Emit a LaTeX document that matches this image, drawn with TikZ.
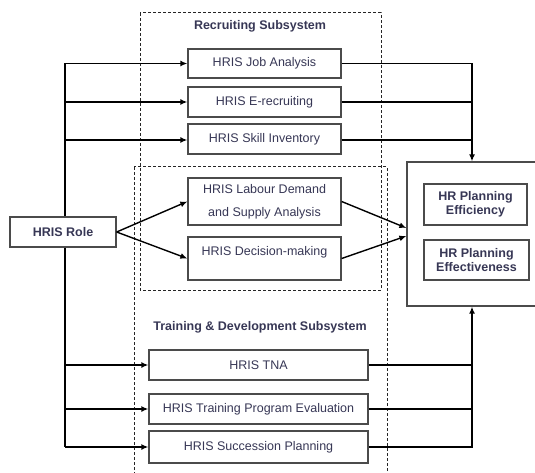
\documentclass[tikz,border=0pt]{standalone}
\usepackage{fontspec}
\setmainfont{Liberation Sans}
\usetikzlibrary{arrows.meta,calc}
\definecolor{txt}{RGB}{55,55,85}
\definecolor{edge}{RGB}{75,75,75}
\begin{document}
\begin{tikzpicture}[x=1pt,y=-1pt,
  font=\fontsize{12.5}{15}\selectfont, text=txt,
  box/.style={draw=edge, line width=1.3pt, fill=white, inner sep=0pt,
    minimum width=153pt, minimum height=30pt},
  boldbox/.style={box, font=\bfseries\fontsize{12.5}{14.5}\selectfont, align=center},
  title/.style={font=\bfseries\fontsize{12.5}{15}\selectfont, inner sep=0pt},
  dashbox/.style={draw=black!85, line width=1pt, dash pattern=on 3pt off 2pt},
  conn/.style={draw=black, line width=1.4pt},
  arr/.style={conn, -{Latex[length=7pt,width=6pt]}}
]
\useasboundingbox (0,0) rectangle (535,473);

% dashed subsystem frames
\draw[dashbox] (140,13) rectangle (381,290);
\draw[dashbox] (134,167) rectangle (387,480);

\node[title] (rtitle) at (260,26) {Recruiting Subsystem};
\node[title] (ttitle) at (260,327) {Training \& Development Subsystem};

% recruiting boxes
\node[box, minimum height=29pt] (job) at (264.5,63.5) {HRIS Job Analysis};
\node[box] (erec) at (264.5,102) {HRIS E-recruiting};
\node[box] (skill) at (264.5,139) {HRIS Skill Inventory};
\node[box, minimum height=47pt, align=center, font=\fontsize{12.5}{23}\selectfont] (labour) at (264.5,201.5) {HRIS Labour Demand\\and Supply Analysis};
\node[box, minimum height=43pt, align=center, font=\fontsize{12.5}{16}\selectfont] (dec) at (264.5,258.5) {HRIS Decision-making\\\mbox{}};

% training boxes
\node[box, minimum width=219pt] (tna) at (258.5,365) {HRIS TNA};
\node[box, minimum width=219pt] (eval) at (258.5,409) {HRIS Training Program Evaluation};
\node[box, minimum width=219pt, minimum height=32pt] (succ) at (258.5,447) {HRIS Succession Planning};

% role
\node[box, font=\bfseries\fontsize{12.5}{15}\selectfont, minimum width=106pt] (role) at (63,232) {HRIS Role};

% outcome
\node[draw=edge, line width=1.3pt, fill=white, inner sep=0pt, minimum width=130pt, minimum height=144pt] (hrp) at (472,234) {};
\node[boldbox, minimum width=103pt, minimum height=41pt] (eff) at (475.5,204.5) {HR Planning\\Efficiency};
\node[boldbox, minimum width=105pt, minimum height=40pt] (effv) at (476.5,260) {HR Planning\\Effectiveness};

% left bus
\coordinate (lbus) at (65,0);
\draw[conn] (job.west -| lbus) -- (lbus |- role.north);
\draw[conn] (lbus |- role.south) -- (succ.west -| lbus);
\draw[arr] (job.west -| lbus) -- (job.west);
\draw[arr] (erec.west -| lbus) -- (erec.west);
\draw[arr] ([yshift=-1pt]skill.west -| lbus) -- ([yshift=-1pt]skill.west);
\draw[arr] (tna.west -| lbus) -- (tna.west);
\draw[arr] (eval.west -| lbus) -- (eval.west);
\draw[arr] (succ.west -| lbus) -- (succ.west);

% diagonal links
\draw[arr] (role.east) -- (labour.west);
\draw[arr] (role.east) -- (dec.west);
\draw[arr] (labour.east) -- ([yshift=6pt]hrp.west);
\draw[arr] (dec.east) -- ([yshift=-2pt]hrp.west);

% right buses
\draw[arr] (job.east) -| (hrp.north);
\draw[conn] (erec.east) -- (erec.east -| hrp.north);
\draw[conn] ([yshift=-1pt]skill.east) -- ([yshift=-1pt]skill.east -| hrp.north);
\draw[arr] (succ.east) -| (hrp.south);
\draw[conn] (tna.east) -- (tna.east -| hrp.south);
\draw[conn] (eval.east) -- (eval.east -| hrp.south);
\end{tikzpicture}
\end{document}
